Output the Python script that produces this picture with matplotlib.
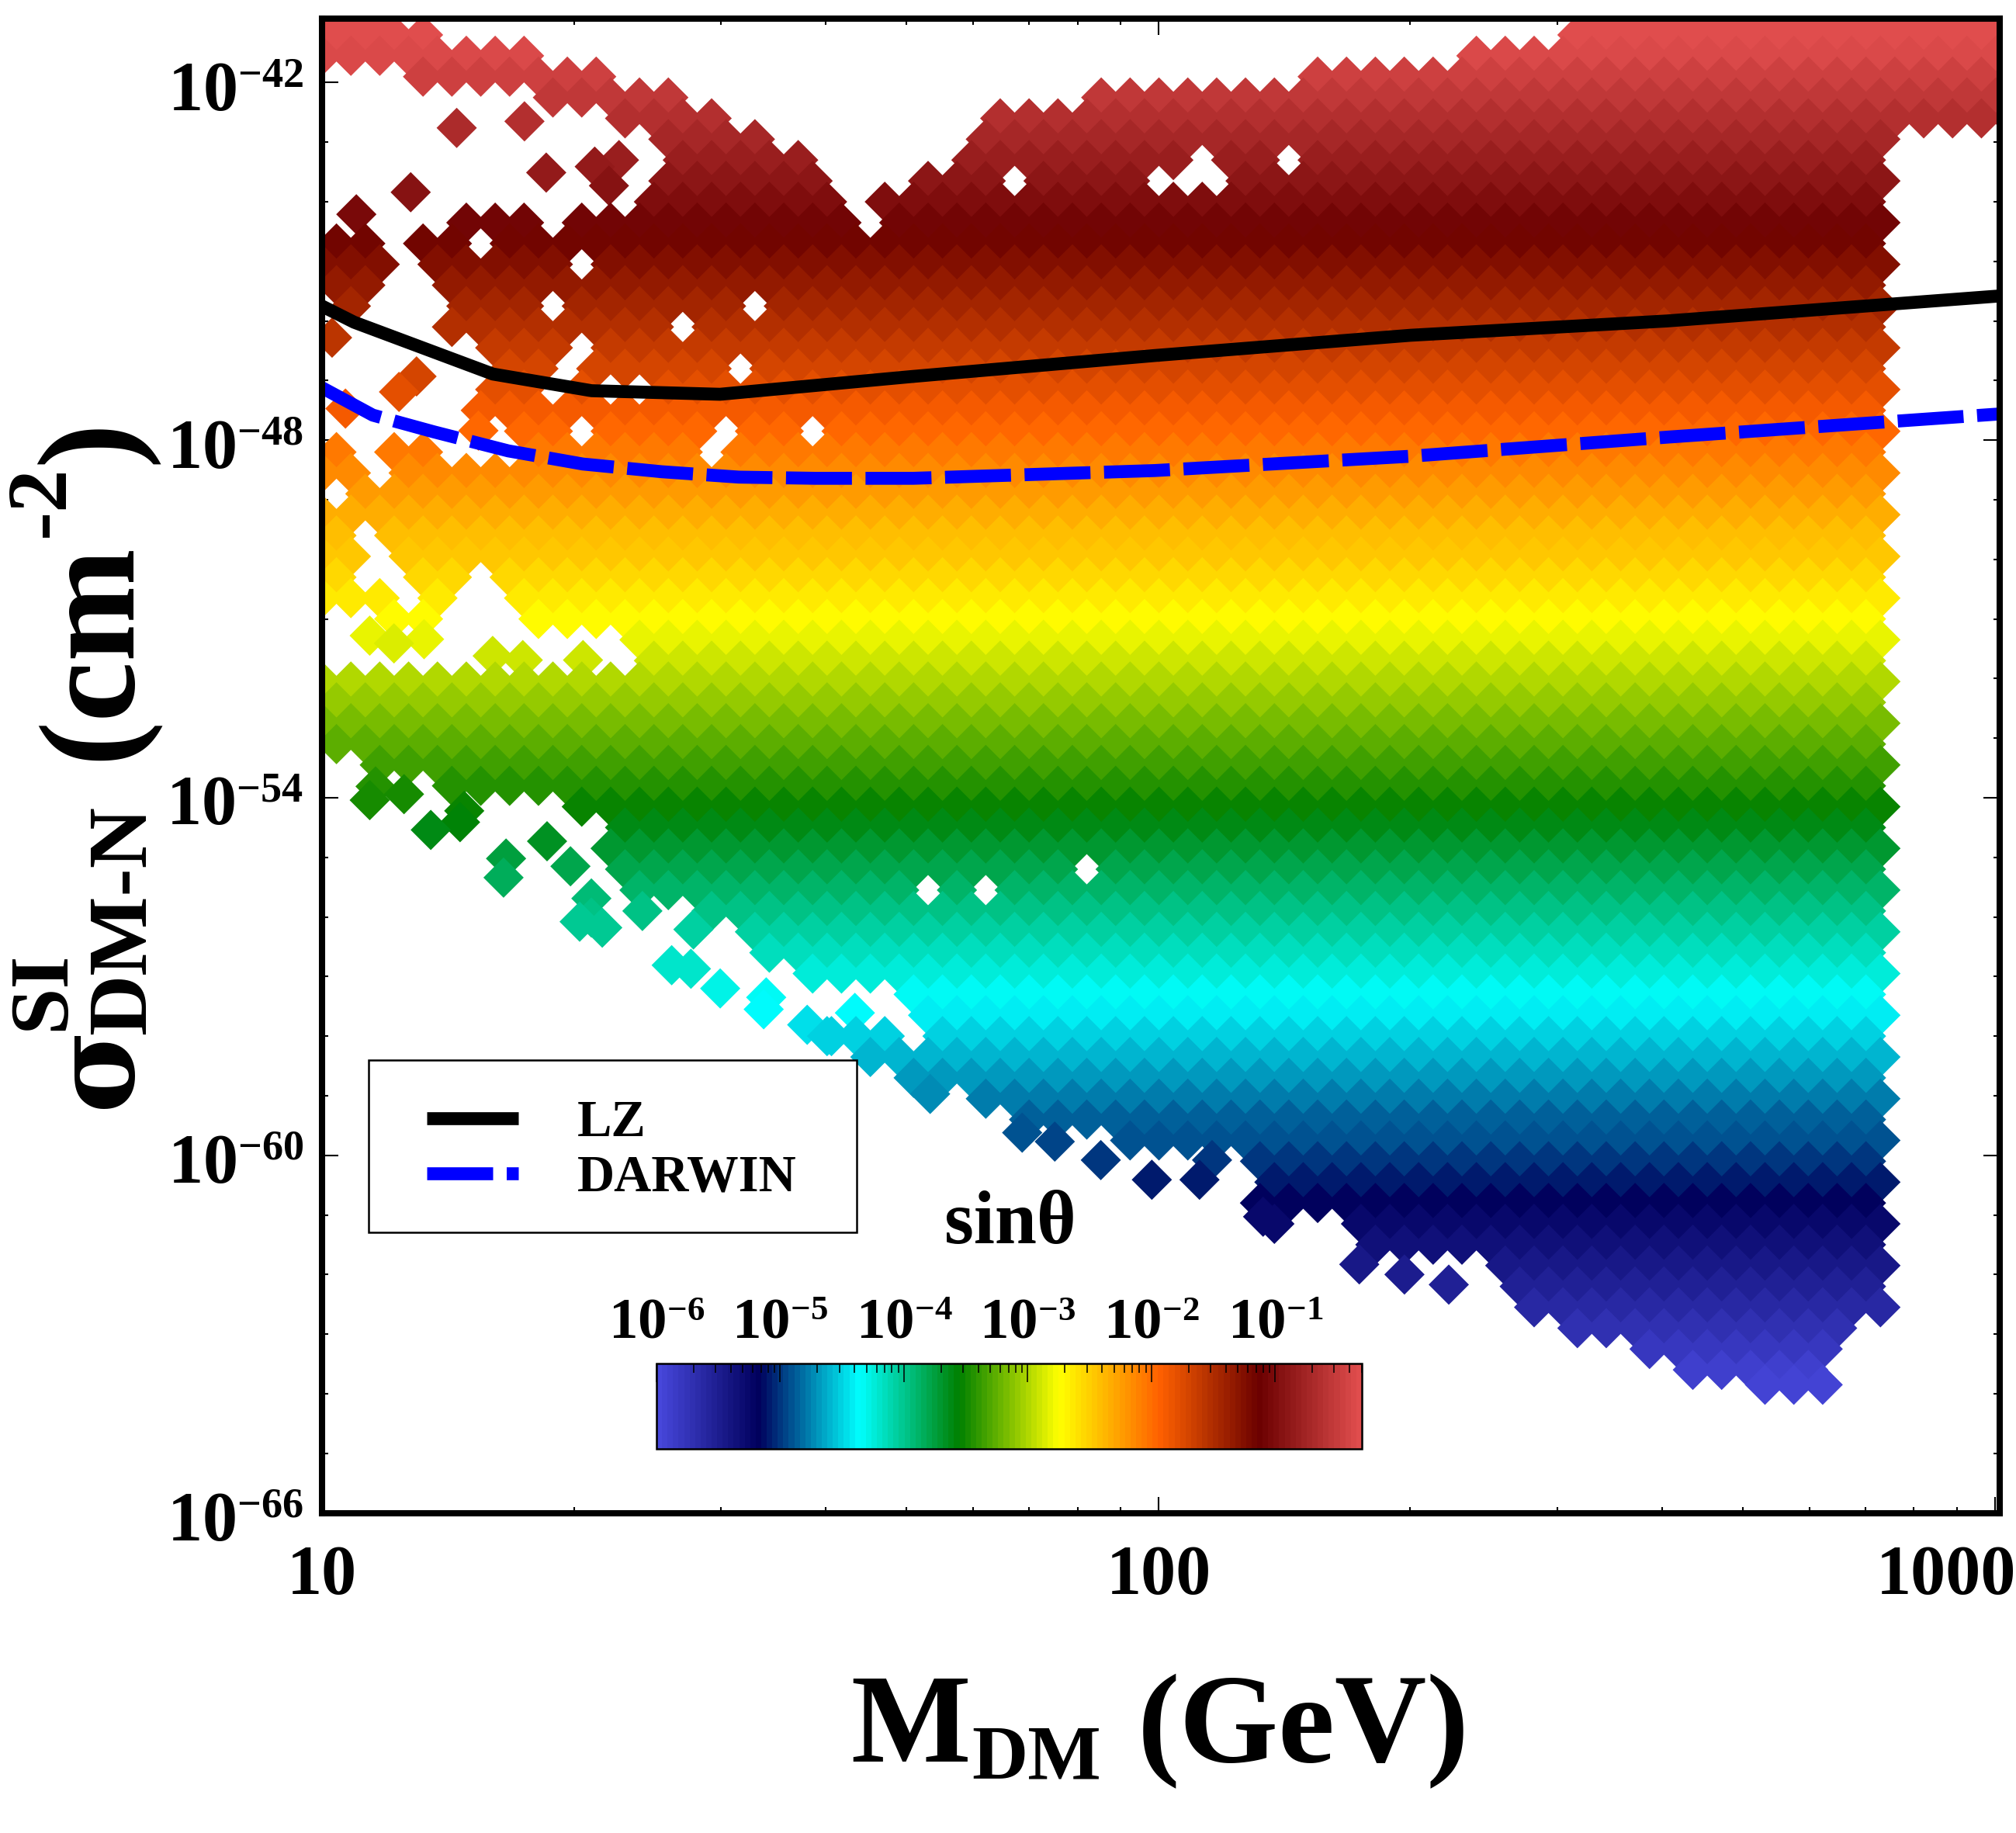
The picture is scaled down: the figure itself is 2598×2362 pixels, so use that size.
import numpy as np
import matplotlib
matplotlib.use("Agg")
import matplotlib.pyplot as plt
from matplotlib import _mathtext
from matplotlib.colors import LinearSegmentedColormap, LogNorm
from matplotlib.cm import ScalarMappable
from matplotlib.patches import Rectangle
from matplotlib.ticker import FixedLocator, NullFormatter
from matplotlib.transforms import ScaledTranslation

_mathtext.SHRINK_FACTOR = 0.6
FONT = "Liberation Serif"
plt.rcParams.update({
    "font.family": FONT, "font.weight": "bold",
    "mathtext.fontset": "custom", "mathtext.rm": FONT + ":bold",
    "mathtext.bf": FONT + ":bold", "mathtext.it": FONT + ":bold",
})

W, H, DPI = 2598, 2362, 100

# ---------- data ----------
lz_mass = [10.0, 10.92, 16.0, 21.0, 29.9, 50.9, 98.9, 200, 405, 1013]
lz_log_sigma = [-45.75, -46.02, -46.89, -47.17, -47.23, -46.93, -46.58, -46.24, -46.0, -45.58]
darwin_mass = [10.0, 11.5, 13.6, 16.7, 20.5, 25.5, 31.5, 38.9, 50.9, 98.9, 200, 405, 1013]
darwin_log_sigma = [-47.12, -47.58, -47.86, -48.18, -48.4, -48.53, -48.62, -48.64, -48.64, -48.51, -48.27, -47.95, -47.56]

# scan rows: log10(sigma), log10(sin theta) of the row, and the log10(M) ranges it fills
row_log_sigma = [-40.85, -41.2, -41.55, -41.9, -42.25, -42.6, -42.95, -43.3, -43.65, -44.0,
                 -44.35, -44.7, -45.05, -45.4, -45.75, -46.1, -46.45, -46.8, -47.15, -47.5,
                 -47.85, -48.2, -48.55, -48.9, -49.25, -49.6, -49.95, -50.3, -50.65, -51.0,
                 -51.35, -51.7, -52.05, -52.4, -52.75, -53.1, -53.45, -53.8, -54.15, -54.5,
                 -54.85, -55.2, -55.55, -55.9, -56.25, -56.6, -56.95, -57.3, -57.65, -58.0,
                 -58.35, -58.7, -59.05, -59.4, -59.75, -60.1, -60.45, -60.8, -61.15, -61.5,
                 -61.85, -62.2, -62.55, -62.9, -63.25, -63.6, -63.85]
row_log_sintheta = [-0.205, -0.293, -0.38, -0.468, -0.555, -0.643, -0.73, -0.818, -0.905, -0.993,
                    -1.08, -1.168, -1.255, -1.343, -1.43, -1.518, -1.605, -1.693, -1.78, -1.868,
                    -1.955, -2.043, -2.13, -2.218, -2.305, -2.393, -2.48, -2.568, -2.655, -2.743,
                    -2.83, -2.918, -3.005, -3.093, -3.18, -3.268, -3.355, -3.443, -3.53, -3.618,
                    -3.705, -3.793, -3.88, -3.968, -4.055, -4.143, -4.23, -4.318, -4.405, -4.493,
                    -4.58, -4.668, -4.755, -4.843, -4.93, -5.018, -5.105, -5.193, -5.28, -5.368,
                    -5.455, -5.543, -5.63, -5.718, -5.805, -5.893, -5.955]
row_log_mass_ranges = [
    [(1.0, 1.10), (2.5, 3.03)],
    [(1.0, 1.15), (2.48, 3.03)],
    [(1.0, 1.25), (2.36, 3.03)],
    [(1.12, 1.33), (2.17, 3.03)],
    [(1.25, 1.43), (1.90, 3.03)],
    [(1.36, 1.50), (1.81, 3.03)],
    [(1.40, 1.55), (1.79, 2.865)],
    [(1.42, 1.58), (1.765, 2.02), (2.07, 2.135), (2.175, 2.865)],
    [(1.40, 1.60), (1.70, 1.80), (1.85, 1.99), (2.10, 2.865)],
    [(1.38, 1.62), (1.67, 2.865)],
    [(1.155, 1.265), (1.29, 1.63), (1.66, 2.865)],
    [(1.0, 1.08), (1.09, 1.17), (1.20, 2.865)],
    [(1.0, 1.08), (1.13, 1.30), (1.34, 2.865)],
    [(1.0, 1.07), (1.15, 2.865)],
    [(1.03, 1.065), (1.14, 1.25), (1.29, 1.50), (1.535, 2.865)],
    [(1.15, 1.41), (1.44, 2.865)],
    [(1.18, 1.30), (1.34, 2.865)],
    [(1.21, 1.27), (1.30, 1.495), (1.53, 2.865)],
    [(1.18, 1.25), (1.30, 1.345), (1.38, 2.865)],
    [(1.16, 1.195), (1.22, 1.26), (1.29, 2.865)],
    [(1.23, 1.30), (1.32, 1.48), (1.515, 1.56), (1.595, 2.865)],
    [(1.0, 1.04), (1.08, 1.14), (1.23, 1.45), (1.48, 2.865)],
    [(1.0, 1.05), (1.08, 2.865)],
    [(1.02, 2.865)],
    [(1.0, 2.865)],
    [(1.0, 1.05), (1.08, 2.865)],
    [(1.0, 1.05), (1.10, 2.865)],
    [(1.0, 1.04), (1.11, 1.16), (1.20, 2.865)],
    [(1.0, 1.08), (1.12, 1.155), (1.22, 2.865)],
    [(1.07, 1.14), (1.24, 2.865)],
    [(1.37, 2.865)],
    [(1.37, 2.865)],
    [(1.0, 2.865)],
    [(1.0, 2.865)],
    [(1.0, 2.865)],
    [(1.0, 2.865)],
    [(1.06, 2.865)],
    [(1.15, 2.865)],
    [(1.30, 2.865)],
    [(1.33, 2.865)],
    [(1.33, 2.865)],
    [(1.35, 1.90), (1.94, 2.865)],
    [(1.36, 1.71), (1.745, 1.77), (1.80, 2.865)],
    [(1.46, 2.865)],
    [(1.50, 2.865)],
    [(1.53, 2.865)],
    [(1.56, 2.865)],
    [(1.70, 2.865)],
    [(1.72, 2.865)],
    [(1.60, 1.69), (1.73, 2.865)],
    [(1.625, 2.865)],
    [(1.675, 2.865)],
    [(1.765, 2.865)],
    [(1.82, 2.865)],
    [(1.94, 2.865)],
    [(2.11, 2.865)],
    [(2.11, 2.865)],
    [(2.12, 2.865)],
    [(2.12, 2.16), (2.23, 2.865)],
    [(2.24, 2.865)],
    [(2.40, 2.865)],
    [(2.41, 2.865)],
    [(2.43, 2.865)],
    [(2.50, 2.83)],
    [(2.56, 2.817)],
    [(2.62, 2.80)],
    [(2.72, 2.80)],
]
scan_column_step = 0.0345   # log10(M) spacing of the scan columns

# isolated points along the edges of the scanned region
stray_log_mass = [1.161, 1.242, 1.268, 1.326, 1.355, 1.343, 1.106, 1.041, 1.028, 1.113, 1.092, 1.012, 1.187,
                  1.057, 1.086, 1.122, 1.204, 1.24, 1.312, 1.064, 1.057, 1.098, 1.13, 1.165, 1.17, 1.22,
                  1.217, 1.269, 1.297, 1.322, 1.322, 1.308, 1.335, 1.383, 1.444, 1.418, 1.441, 1.476,
                  1.531, 1.528, 1.637, 1.58, 1.609, 1.727, 1.837, 1.876, 1.931, 1.992, 2.049, 2.064,
                  2.125, 2.24, 2.294, 2.347]
stray_log_sigma = [-42.76, -42.65, -43.51, -43.41, -43.30, -43.73, -43.84, -44.21, -47.47, -46.93, -47.19, -46.28, -47.84,
                   -51.28, -51.41, -51.34, -51.62, -51.69, -51.69, -53.81, -54.04, -53.94, -54.54, -54.41, -54.22, -55.02,
                   -55.34, -54.73, -55.15, -55.69, -56.01, -56.08, -56.18, -55.9, -56.21, -56.81, -56.87, -57.2,
                   -57.35, -57.55, -57.61, -57.81, -58.0, -58.97, -59.62, -59.77, -60.08, -60.41, -60.41, -60.08,
                   -61.03, -61.83, -62.0, -62.17]
stray_log_sintheta = [-0.683, -0.655, -0.87, -0.845, -0.818, -0.925, -0.953, -1.045, -1.86, -1.725, -1.79, -1.563, -1.953,
                      -2.813, -2.845, -2.828, -2.898, -2.915, -2.915, -3.445, -3.503, -3.478, -3.628, -3.595, -3.548, -3.748,
                      -3.828, -3.675, -3.78, -3.915, -3.995, -4.013, -4.038, -3.968, -4.045, -4.195, -4.21, -4.293,
                      -4.33, -4.38, -4.395, -4.445, -4.493, -4.735, -4.898, -4.935, -5.013, -5.095, -5.095, -5.013,
                      -5.25, -5.45, -5.493, -5.535]

x_ticks = [10, 100, 1000]
x_tick_labels = ["10", "100", "1000"]
y_tick_exponents = [-42, -48, -54, -60, -66]
cbar_tick_exponents = [-6, -5, -4, -3, -2, -1]
palette = [(71, 71, 219), (0, 0, 92), (0, 255, 255), (0, 128, 0),
           (255, 255, 0), (255, 97, 0), (107, 0, 0), (224, 77, 77)]

# ---------- assemble scan points ----------
pts_m, pts_s, pts_c = [], [], []
for i, (s, c, ranges) in enumerate(zip(row_log_sigma, row_log_sintheta, row_log_mass_ranges)):
    offset = (i % 2) * scan_column_step / 2
    for lo, hi in ranges:
        first = np.ceil((lo - 1.0 - offset) / scan_column_step)
        last = np.floor((hi - 1.0 - offset) / scan_column_step)
        for k in np.arange(first, last + 1):
            pts_m.append(1.0 + offset + k * scan_column_step)
            pts_s.append(s)
            pts_c.append(c)
pts_m = np.array(pts_m + stray_log_mass)
pts_s = np.array(pts_s + stray_log_sigma)
pts_c = np.array(pts_c + stray_log_sintheta)
order = np.argsort(-pts_s, kind="stable")

cmap = LinearSegmentedColormap.from_list("rainbow_desat", [tuple(v / 255 for v in p) for p in palette], N=128)
norm = LogNorm(1e-6, 10 ** -0.3)

# ---------- figure ----------
fig = plt.figure(figsize=(W / DPI, H / DPI), dpi=DPI, facecolor="white")
L, R, T, B = 415, 2577, 23.5, 1949.5
ax = fig.add_axes([L / W, 1 - B / H, (R - L) / W, (B - T) / H])
ax.set_xscale("log")
ax.set_yscale("log")
ax.set_xlim(10, 1013)
ax.set_ylim(1e-66, 10 ** -40.92)

ax.scatter(10.0 ** pts_m[order], 10.0 ** pts_s[order], c=10.0 ** pts_c[order],
           cmap=cmap, norm=norm, marker="D", s=700, linewidths=0, zorder=2)

ax.plot(lz_mass, 10.0 ** np.array(lz_log_sigma), color="black", lw=12, label="LZ",
        solid_capstyle="butt", zorder=3)
ax.plot(darwin_mass, 10.0 ** np.array(darwin_log_sigma), color="#0000ff", lw=12, label="DARWIN",
        dashes=(5.1, 1.05), dash_capstyle="butt", zorder=3)

ax.add_patch(Rectangle(((475 - L) / (R - L), (B - 1588) / (B - T)), (1104 - 475) / (R - L), (1588 - 1366) / (B - T),
                       transform=ax.transAxes, facecolor="white", edgecolor="black", linewidth=1.8, zorder=4))
leg = ax.legend(loc="lower left", bbox_to_anchor=((550 - L) / (R - L), (B - 1549) / (B - T)), borderaxespad=0,
                fontsize=48, frameon=False, handlelength=1.77, handletextpad=1.14,
                labelspacing=0.15, borderpad=0)
leg.set_zorder(5)

for side in ax.spines.values():
    side.set_linewidth(5.8)
    side.set_zorder(6)

ax.xaxis.set_major_locator(FixedLocator(x_ticks))
ax.set_xticklabels(x_tick_labels)
ax.xaxis.set_minor_locator(FixedLocator([10 ** d * m for d in (1, 2) for m in range(2, 10)]))
ax.xaxis.set_minor_formatter(NullFormatter())
ax.yaxis.set_major_locator(FixedLocator([10.0 ** e for e in y_tick_exponents]))
ax.set_yticklabels([rf"$\mathbf{{10^{{{e}}}}}$" for e in y_tick_exponents], va="center_baseline")
ax.yaxis.set_minor_locator(FixedLocator([10.0 ** e for e in range(-65, -40) if e not in y_tick_exponents]))
ax.yaxis.set_minor_formatter(NullFormatter())
ax.tick_params(which="major", direction="in", top=True, right=True, length=15, width=1.5, zorder=7)
ax.tick_params(which="minor", direction="in", top=True, right=True, length=6, width=1.5, zorder=7)
ax.tick_params(axis="x", which="major", labelsize=65, pad=30)
ax.tick_params(axis="y", which="major", labelsize=65, pad=17)
last = ax.get_xticklabels()[-1]
last.set_transform(last.get_transform() + ScaledTranslation(-63 / DPI, 0, fig.dpi_scale_trans))
for lab in ax.get_yticklabels():
    lab.set_transform(lab.get_transform() + ScaledTranslation(0, -4 / DPI, fig.dpi_scale_trans))


def put(x, y, s, size, rot=0, **kw):
    fig.text(x / W, 1 - y / H, s, fontsize=size, rotation=rot, rotation_mode="anchor",
             ha="left", va="baseline", color="black", **kw)


put(167, 1428, "σ", 105, 90, family="DejaVu Serif")
put(82, 1328, "SI", 78, 90)
put(187, 1333, "DM-N", 78, 90)
put(165, 980, "(cm", 126, 90)
put(82, 692, "-2", 80, 90)
put(165, 598, ")", 126, 90)

put(1096, 2270, "M", 118)
put(1252, 2292, "DM", 72)
put(1466, 2270, "(GeV)", 118)
put(1217, 1602, "sinθ", 70)

# ---------- colour bar ----------
cax = fig.add_axes([846 / W, 1 - 1867 / H, (1755 - 846) / W, (1867 - 1757) / H], zorder=8)
cb = fig.colorbar(ScalarMappable(norm=norm, cmap=cmap), cax=cax, orientation="horizontal", ticklocation="top")
cb.set_ticks([10.0 ** e for e in cbar_tick_exponents],
             labels=[rf"$\mathbf{{10^{{{e}}}}}$" for e in cbar_tick_exponents])
cb.ax.xaxis.set_minor_locator(FixedLocator([10.0 ** d * m for d in range(-6, 0) for m in range(2, 10)
                                            if 10.0 ** d * m <= 10 ** -0.3]))
cb.ax.xaxis.set_minor_formatter(NullFormatter())
cb.outline.set_linewidth(1.8)
cb.ax.tick_params(which="major", direction="in", length=17, width=1.1, labelsize=54, pad=12)
cb.ax.tick_params(which="minor", direction="in", length=8.6, width=1.1)

fig.savefig("out.png", dpi=DPI)
